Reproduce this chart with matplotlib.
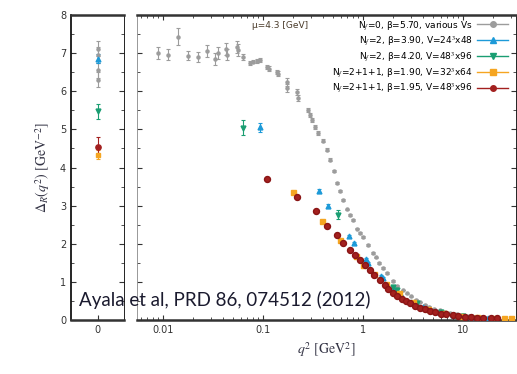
import matplotlib
matplotlib.use('Agg')
import matplotlib.pyplot as plt
from matplotlib.lines import Line2D
import numpy as np

plt.rcParams['mathtext.fontset'] = 'stix'
plt.rcParams['font.size'] = 7

# --- data ---
# values at q^2 = 0 (left panel)
grey0 = [7.12, 6.95, 6.55, 6.3]
grey0_err = [0.2, 0.2, 0.2, 0.2]
blue0, blue0_err = 6.85, 0.12
green0, green0_err = 5.47, 0.2
red0, red0_err = 4.55, 0.25
orange0, orange0_err = 4.33, 0.12

# N_f=0, beta=5.70
grey_q = [0.0089, 0.0112, 0.0141, 0.018, 0.0224, 0.0275, 0.033, 0.0355, 0.043, 0.044,
          0.055, 0.056, 0.063, 0.074, 0.080, 0.087, 0.093, 0.11, 0.115, 0.138, 0.142,
          0.174, 0.176, 0.22, 0.225, 0.28, 0.295, 0.31, 0.33, 0.355, 0.40, 0.44, 0.47,
          0.51, 0.55, 0.59, 0.63, 0.70, 0.75, 0.79, 0.88, 0.94, 1.0, 1.12, 1.26, 1.35,
          1.45, 1.6, 1.74, 2.0, 2.2, 2.5, 2.75, 3.0, 3.4, 3.7, 4.2, 4.6, 5.2, 5.9, 6.7,
          7.5, 8.7, 10, 11.5, 13, 15, 17, 19.5, 22]
grey_d = [7.0, 6.96, 7.43, 6.93, 6.9, 7.06, 6.85, 7.0, 7.11, 6.96,
          7.16, 7.08, 6.9, 6.75, 6.78, 6.8, 6.82, 6.64, 6.59, 6.5, 6.46,
          6.25, 6.09, 5.98, 5.83, 5.51, 5.38, 5.25, 5.07, 4.9, 4.7, 4.46, 4.2,
          3.9, 3.6, 3.38, 3.15, 2.9, 2.75, 2.62, 2.4, 2.28, 2.18, 1.97, 1.76, 1.64,
          1.5, 1.36, 1.23, 1.02, 0.9, 0.79, 0.7, 0.62, 0.53, 0.47, 0.4, 0.35, 0.3, 0.26, 0.22,
          0.18, 0.15, 0.13, 0.11, 0.09, 0.07, 0.05, 0.05, 0.04]
grey_err = [0.15, 0.15, 0.22, 0.12, 0.12, 0.15, 0.15, 0.15, 0.15, 0.15,
            0.15, 0.15, 0.08, 0.05, 0.05, 0.05, 0.05, 0.06, 0.06, 0.06, 0.06,
            0.1, 0.1, 0.08, 0.08, 0.06, 0.06, 0.06, 0.05, 0.05, 0.04, 0.04, 0.04,
            0.03, 0.03, 0.03, 0.03, 0.02, 0.02, 0.02, 0.02, 0.02, 0.02, 0.02, 0.02, 0.02,
            0.02, 0.02, 0.02, 0.02, 0.01, 0.01, 0.01, 0.01, 0.01, 0.01, 0.01, 0.01, 0.01, 0.01, 0.01,
            0.01, 0.01, 0.01, 0.01, 0.01, 0.01, 0.01, 0.01, 0.01]

# N_f=2, beta=3.90
blue_q = [0.093, 0.36, 0.45, 0.72, 0.81, 1.07, 1.12, 1.5, 1.58, 2.0, 2.4, 3.0, 4.0, 5.5, 8, 12, 18]
blue_d = [5.05, 3.39, 2.99, 2.2, 2.02, 1.6, 1.5, 1.15, 1.1, 0.85, 0.65, 0.48, 0.33, 0.2, 0.12, 0.07, 0.04]
blue_err = [0.12, 0.05, 0.04, 0.03, 0.03, 0.02, 0.02, 0.02, 0.02, 0.01, 0.01, 0.01, 0.01, 0.01, 0.01, 0.01, 0.01]

# N_f=2, beta=4.20
green_q = [0.063, 0.56, 2.0, 2.2, 3.5, 6, 10]
green_d = [5.04, 2.76, 0.87, 0.8, 0.45, 0.22, 0.11]
green_err = [0.2, 0.12, 0.03, 0.03, 0.02, 0.01, 0.01]

# N_f=2+1+1, beta=1.90
orange_q = [0.2, 0.39, 0.59, 0.85, 1.0, 1.3, 1.7, 2.3, 3.2, 4.5, 6.5, 9.5, 14, 20, 26, 30]
orange_d = [3.36, 2.6, 2.1, 1.68, 1.45, 1.2, 0.95, 0.7, 0.48, 0.3, 0.18, 0.11, 0.07, 0.05, 0.05, 0.05]

# N_f=2+1+1, beta=1.95
red_q = [0.11, 0.22, 0.34, 0.44, 0.55, 0.63, 0.74, 0.84, 0.93, 1.05, 1.17, 1.3, 1.48, 1.65,
         1.8, 2.0, 2.2, 2.45, 2.7, 2.95, 3.3, 3.7, 4.2, 4.7, 5.3, 6.0, 6.8, 7.9, 9.0, 10.5,
         12, 14, 16, 19, 22]
red_d = [3.7, 3.23, 2.86, 2.47, 2.23, 2.02, 1.84, 1.7, 1.57, 1.44, 1.31, 1.18, 1.05, 0.93,
         0.82, 0.71, 0.63, 0.55, 0.5, 0.45, 0.38, 0.32, 0.28, 0.24, 0.2, 0.17, 0.15, 0.12, 0.1, 0.08,
         0.07, 0.06, 0.05, 0.05, 0.04]

labels = ['N$_f$=0, β=5.70, various Vs',
          'N$_f$=2, β=3.90, V=24$^3$x48',
          'N$_f$=2, β=4.20, V=48$^3$x96',
          'N$_f$=2+1+1, β=1.90, V=32$^3$x64',
          'N$_f$=2+1+1, β=1.95, V=48$^3$x96']

c_grey = '#9c9c9c'
c_blue = '#1d9ad8'
c_green = '#1a9e72'
c_orange = '#f5a521'
c_red = '#a3201f'

fig = plt.figure(figsize=(5.17, 3.74), dpi=100)
W, H = 517, 374
axL = fig.add_axes([71 / W, 1 - 320 / H, 53 / W, 305 / H])
axR = fig.add_axes([137 / W, 1 - 320 / H, 379 / W, 305 / H])

# left panel: q^2 = 0
eb = dict(capsize=1.5, elinewidth=0.8, capthick=0.8, linestyle='none')
axL.errorbar([0] * len(grey0), grey0, yerr=grey0_err, marker='o', ms=2.2, color=c_grey, **eb)
axL.errorbar([0], [blue0], yerr=[blue0_err], marker='^', ms=3.5, color=c_blue, **eb)
axL.errorbar([0], [green0], yerr=[green0_err], marker='v', ms=3.5, color=c_green, **eb)
axL.errorbar([0], [orange0], yerr=[orange0_err], marker='s', ms=3.5, color=c_orange, **eb)
axL.errorbar([0], [red0], yerr=[red0_err], marker='o', ms=3.8, color=c_red, **eb)

axL.set_xlim(-1, 1)
axL.set_ylim(0, 8)
axL.set_xticks([0])
axL.set_yticks(range(9))
axL.set_yticks(np.arange(0.5, 8, 0.5), minor=True)
axL.tick_params(direction='in', which='both', right=True, top=False, labelsize=7, colors='#333333')
axL.tick_params(which='major', length=3.5)
axL.tick_params(which='minor', length=2)
axL.set_ylabel(r'$\Delta_R(q^2)\ [\mathrm{GeV}^{-2}]$', fontsize=10, color='#333344', labelpad=6)

# right panel
axR.errorbar(grey_q, grey_d, yerr=grey_err, marker='o', ms=2.2, color=c_grey, zorder=2, **eb)
axR.errorbar(blue_q, blue_d, yerr=blue_err, marker='^', ms=3.5, color=c_blue, zorder=3, **eb)
axR.errorbar(green_q, green_d, yerr=green_err, marker='v', ms=3.5, color=c_green, zorder=3, **eb)
axR.plot(orange_q, orange_d, 's', ms=3.6, color=c_orange, zorder=4)
axR.plot(red_q, red_d, 'o', ms=4.3, color=c_red, mec='#8a1515', zorder=5)

axR.set_xscale('log')
axR.set_xlim(0.0055, 34)
axR.set_ylim(0, 8)
axR.set_xticks([0.01, 0.1, 1, 10])
axR.set_xticklabels(['0.01', '0.1', '1', '10'])
axR.set_yticks(range(9))
axR.set_yticks(np.arange(0.5, 8, 0.5), minor=True)
axR.tick_params(direction='in', which='both', top=True, right=True, left=True,
                labelleft=False, labelsize=7, colors='#333333')
axR.tick_params(which='major', length=3.5)
axR.tick_params(which='minor', length=2)
axR.set_xlabel(r'$q^2\ [\mathrm{GeV}^2]$', fontsize=10, color='#333344', labelpad=4)

for ax in (axL, axR):
    ax.spines['top'].set_linewidth(1.8)
    ax.spines['bottom'].set_linewidth(1.8)
    ax.spines['top'].set_color('#333333')
    ax.spines['bottom'].set_color('#333333')
axL.spines['left'].set_linewidth(1.2)
axL.spines['right'].set_linewidth(0.6)
axR.spines['left'].set_linewidth(0.6)
axR.spines['left'].set_color('#888888')
axR.spines['right'].set_linewidth(0.6)

# legend
colors = [c_grey, c_blue, c_green, c_orange, c_red]
markers = ['o', '^', 'v', 's', 'o']
handles = [Line2D([], [], color=c, marker=m, ms=4, lw=1) for c, m in zip(colors, markers)]
axR.legend(handles, labels, loc='upper right', bbox_to_anchor=(508 / W, 1 - 19 / H),
           bbox_transform=fig.transFigure, frameon=False, markerfirst=False, fontsize=6.5,
           handlelength=3.4, handletextpad=0.5, labelspacing=0.3, borderpad=0, borderaxespad=0)
fig.text(252 / W, 1 - 25 / H, 'μ=4.3 [GeV]', fontsize=6.5, color='#4a3b2a', va='center')

fig.text(79 / W, 1 - 306 / H, 'Ayala et al, PRD 86, 074512 (2012)',
         family=['Lato', 'DejaVu Sans'], fontsize=13.5, color='#1a1a2e')

fig.savefig('out.png', dpi=100)
